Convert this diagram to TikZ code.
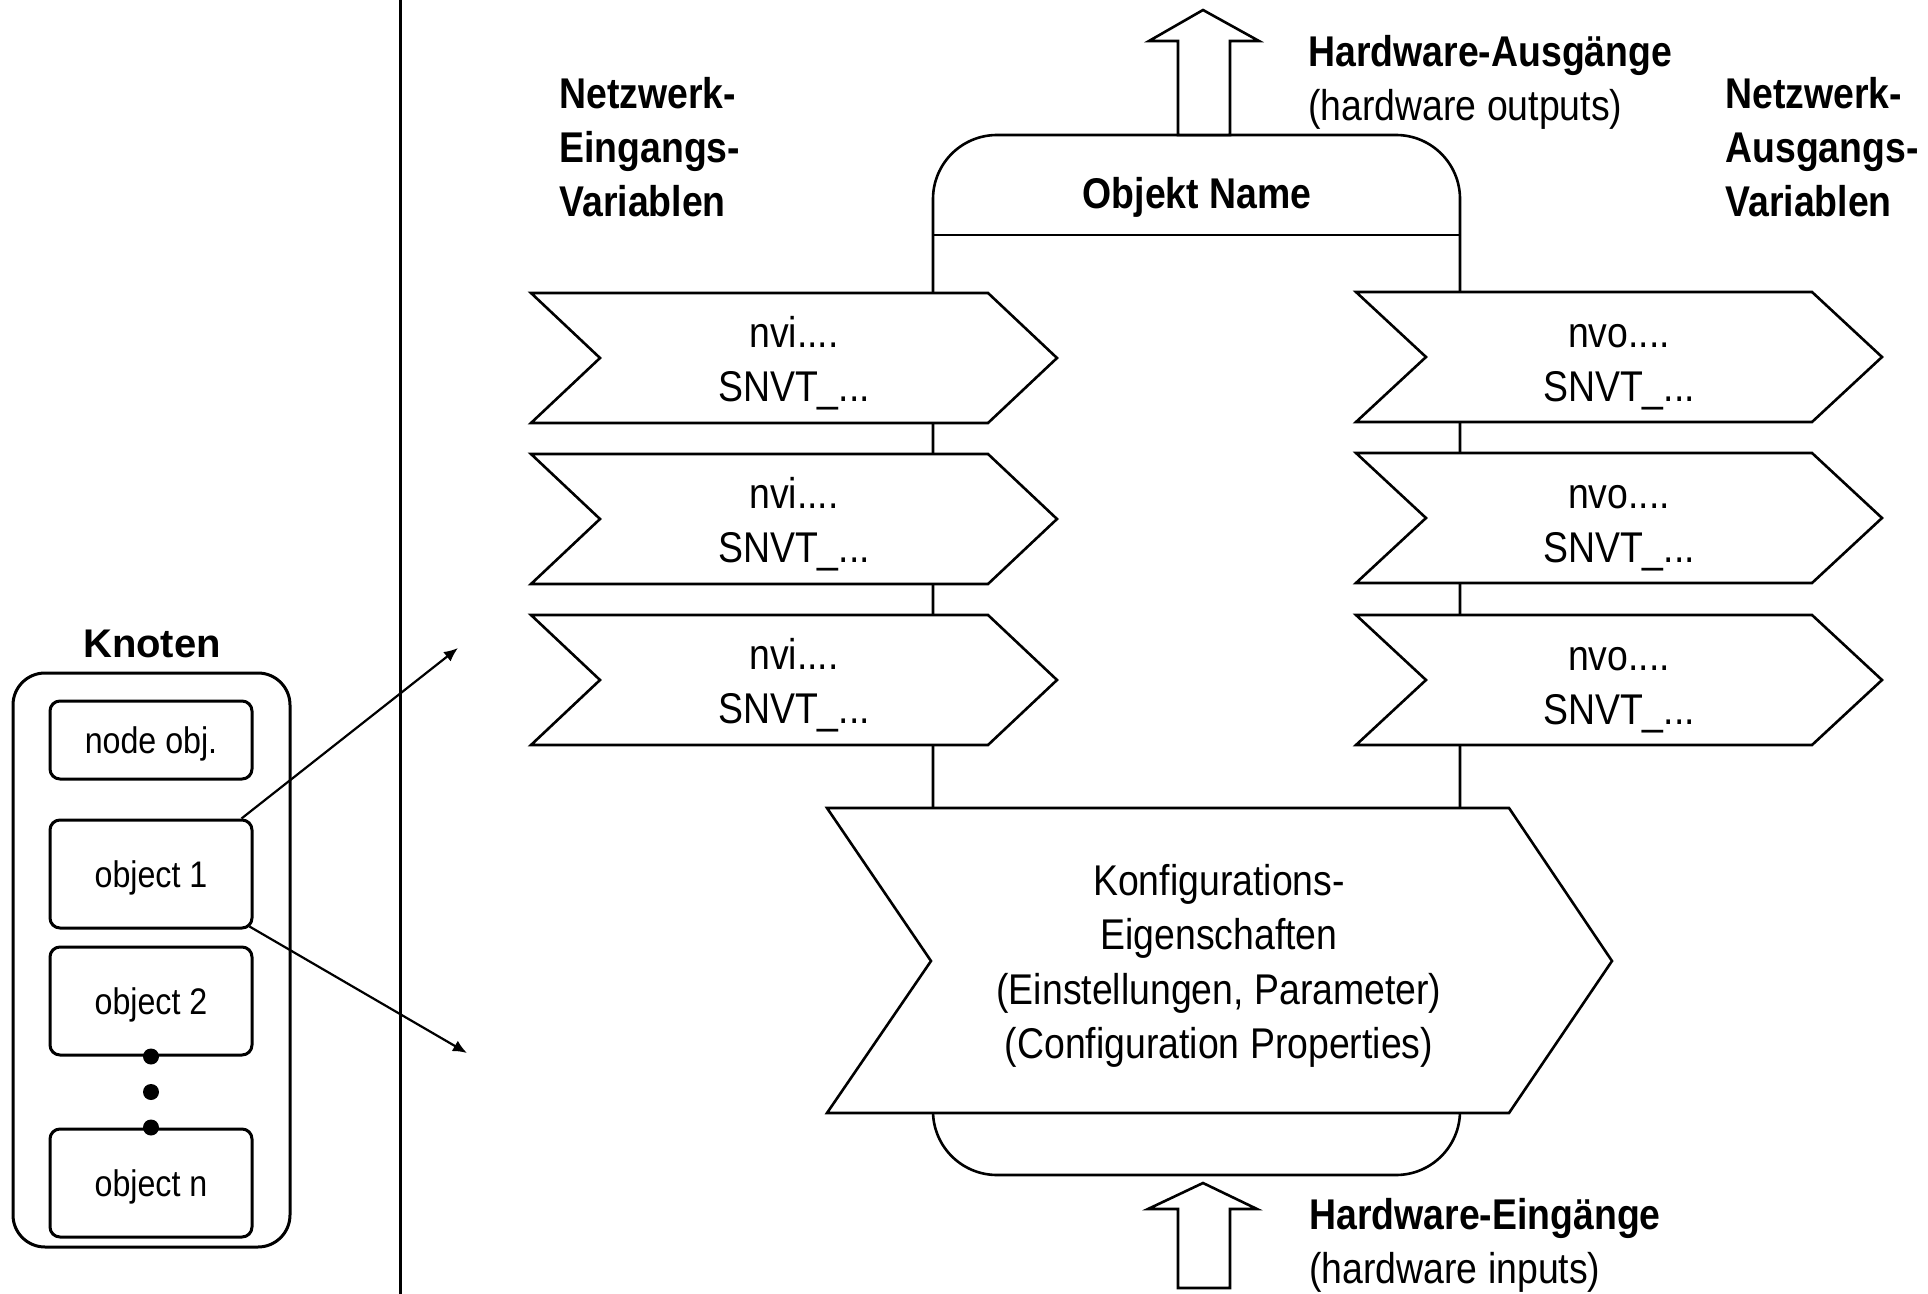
\documentclass[tikz,border=0pt]{standalone}
\usepackage{fontspec}
\setmainfont{Liberation Sans}[FakeStretch=0.87]
\newfontfamily\knotenfont{Liberation Sans}
\usetikzlibrary{arrows.meta,calc}

\begin{document}
\begin{tikzpicture}[x=0.5pt, y=-0.5pt,
  txt/.style={font=\fontsize{21.5}{27}\selectfont, inner sep=0pt, align=center},
  varlbl/.style={txt, font=\fontsize{21.5}{27}\selectfont\bfseries, align=left, anchor=west},
  chev/.style={draw, line width=1.3pt, fill=white},
  hollow/.style={draw, line width=1.3pt, fill=white},
  objbox/.style={draw, line width=1.5pt, rounded corners=5pt, minimum width=101pt, text depth=0pt, font=\fontsize{18.5}{22}\selectfont},
  dotnode/.style={circle, fill, inner sep=0pt, minimum size=8pt},
  link/.style={line width=1.1pt, -{Latex[length=7pt,width=6pt]}}]
\useasboundingbox (0,0) rectangle (1928,1294);
\draw[line width=1.5pt] (400,0) -- (400,1294);

\node[font=\knotenfont\fontsize{20}{24}\selectfont\bfseries, inner sep=0pt, anchor=base] (knotentitle) at (152,657) {Knoten};
\node[draw, line width=1.5pt, rounded corners=16pt, minimum width=138.5pt, minimum height=287pt] (knoten) at (151.5,960) {};
\node[objbox, minimum height=39pt] (nodeobj) at (151,740) {node obj.};
\foreach \n/\y/\t in {obj1/874/object 1, obj2/1001/object 2, objn/1183/object n}
  \node[objbox, minimum height=54pt] (\n) at (151,\y) {\t};
\node[dotnode] (dotA) at (obj2.south) {};
\node[dotnode] (dotC) at (objn.north) {};
\node[dotnode] (dotB) at ($(dotA)!0.5!(dotC)$) {};
\coordinate (inA) at (458,648);
\coordinate (inB) at (467,1053);
\draw[link] ([xshift=-6pt]obj1.north east) -- (inA);
\draw[link] ([shift={(-4,-3)}]obj1.south east) -- (inB);

\draw[line width=1.3pt, rounded corners=32pt] (933,135) rectangle (1460,1175);
\draw[line width=1.3pt] (933,235) -- (1460,235);
\node[txt, font=\fontsize{21.5}{27}\selectfont\bfseries, anchor=base] (objname) at (1197,209) {Objekt Name};
\draw[hollow] (1178,135) -- (1178,41) -- (1149,41) -- (1203,10) -- (1259,41) -- (1230,41) -- (1230,135) -- cycle;
\draw[hollow] (1178,1288) -- (1178,1209) -- (1148,1209) -- (1203,1183) -- (1257,1209) -- (1230,1209) -- (1230,1288) -- cycle;

\foreach \i/\y in {1/293, 2/454, 3/615} {
  \draw[chev] (531,\y) -- (988,\y) -- (1057,\y+65) -- (988,\y+130) -- (531,\y+130) -- (600,\y+65) -- cycle;
  \node[txt] (nvi\i) at (794,\y+70) {nvi....\\SNVT\_...};
}
\foreach \i/\y in {1/292, 2/453, 3/615} {
  \draw[chev] (1356,\y) -- (1812,\y) -- (1882,\y+65) -- (1812,\y+130) -- (1356,\y+130) -- (1426,\y+65) -- cycle;
  \node[txt] (nvo\i) at (1619,\y+75) {nvo....\\SNVT\_...};
}
\draw[chev] (827,808) -- (1509,808) -- (1612,961) -- (1509,1113) -- (827,1113) -- (931,961) -- cycle;
\node[txt, font=\fontsize{21.5}{27.25}\selectfont] (cp) at (1219,966) {Konfigurations-\\Eigenschaften\\(Einstellungen, Parameter)\\(Configuration Properties)};

\node[varlbl] (netin) at (559,147) {Netzwerk-\\Eingangs-\\Variablen};
\node[varlbl] (netout) at (1725,147) {Netzwerk-\\Ausgangs-\\Variablen};
\node[txt, align=left, anchor=west] (hwout) at (1308,82) {\textbf{Hardware-Ausgänge}\\(hardware outputs)};
\node[txt, align=left, anchor=west] (hwin) at (1309,1245) {\textbf{Hardware-Eingänge}\\(hardware inputs)};
\end{tikzpicture}
\end{document}
